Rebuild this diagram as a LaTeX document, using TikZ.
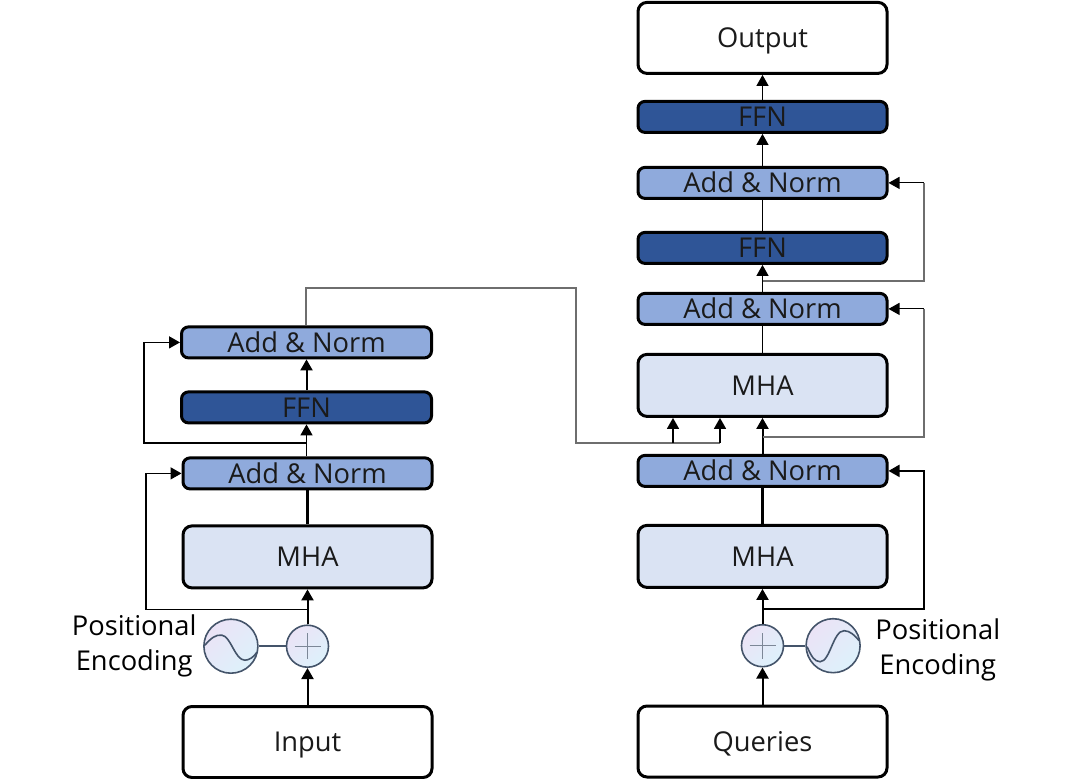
\documentclass[tikz,border=0pt]{standalone}
\usepackage{fontspec}
\setmainfont{Open Sans}
\usepackage{xcolor}
\usetikzlibrary{arrows.meta,positioning}
\definecolor{mhablue}{HTML}{DAE3F3}
\definecolor{addblue}{HTML}{8FAADC}
\definecolor{ffnblue}{HTML}{2F5597}
\definecolor{ringgray}{HTML}{44546A}
\definecolor{ringA}{HTML}{EBE3F6}
\definecolor{ringB}{HTML}{DDF1FB}
\definecolor{thinline}{HTML}{6E6E6E}
\definecolor{labeltext}{HTML}{1A1A1A}

\begin{document}
\begin{tikzpicture}[
x=1pt, y=1pt,
font=\fontsize{27.3}{35}\selectfont,
block/.style={draw, line width=3pt, rounded corners=9pt, align=center, inner sep=0pt, minimum width=249pt, text height=20pt, text depth=0.5pt, text=labeltext},
io/.style={block, minimum height=71pt, fill=white},
mha/.style={block, minimum height=62pt, fill=mhablue},
addnorm/.style={block, rounded corners=7pt, minimum height=31pt, fill=addblue},
ffn/.style={block, rounded corners=7pt, minimum height=31pt, fill=ffnblue},
ring/.style={circle, draw=ringgray, line width=1.6pt, inner sep=0pt, top color=ringA, bottom color=ringB, shading angle=45},
arr/.style={-{Triangle[length=11pt,width=12pt]}, line width=2pt},
lnk/.style={line width=2.2pt},
skip/.style={-{Triangle[length=11pt,width=12pt]}, line width=1.6pt},
feed/.style={draw=thinline, line width=1.2pt},
thin arr/.style={-{Triangle[length=11pt,width=12pt]}, line width=1.1pt},
wire/.style={draw=ringgray, line width=1.6pt},
]
\useasboundingbox (0,0) rectangle (1072,-779);

% encoder side
\node[io] (input) at (307.5,-742) {Input};
\node[ring, minimum size=42pt, above=37pt of input] (plusA) {};
\node[mha, above=35pt of plusA] (mhaA) {MHA};
\node[addnorm, above=34pt of mhaA] (addA) {Add \& Norm};
\node[ffn, above=32pt of addA, xshift=-1pt, minimum width=250pt] (ffnA) {FFN};
\node[addnorm, above=31pt of ffnA, minimum width=250pt] (addB) {Add \& Norm};
\node[ring, minimum size=54pt, left=27pt of plusA] (waveA) {};
\node[align=center, left=3pt of waveA] (posA) {Positional\\Encoding};

% decoder side
\node[io] (queries) at (762.5,-741.5) {Queries};
\node[ring, minimum size=42pt, above=37pt of queries] (plusB) {};
\node[mha, above=35pt of plusB] (mhaB) {MHA};
\node[addnorm, above=36pt of mhaB] (addC) {Add \& Norm};
\node[mha, above=36pt of addC] (mhaC) {MHA};
\node[addnorm, above=27pt of mhaC] (addD) {Add \& Norm};
\node[ffn, above=27pt of addD] (ffnB) {FFN};
\node[addnorm, above=31pt of ffnB] (addE) {Add \& Norm};
\node[ffn, above=32pt of addE] (ffnC) {FFN};
\node[io, above=25pt of ffnC] (output) {Output};
\node[ring, minimum size=54pt, right=21pt of plusB] (waveB) {};
\node[align=center, right=11pt of waveB, yshift=-4pt] (posB) {Positional\\Encoding};

% plus signs and waves
\foreach \p in {plusA,plusB} {
  \draw[draw=ringgray!70, line width=1.2pt] (\p.center) +(-13,0) -- +(13,0) +(0,-13) -- +(0,13);
}
\draw[wire, shift={(waveA.center)}] (-26,1) .. controls (-20,8) and (-15,12) .. (-9,11) .. controls (0,10) and (4,-14) .. (14,-14) .. controls (18,-14) and (23,-11) .. (26,-6);
\draw[wire, shift={(waveB.center)}] (-26,-1) .. controls (-22,-10) and (-19,-16) .. (-13,-16) .. controls (-3,-16) and (0,15) .. (11,15) .. controls (17,15) and (22,10) .. (26,5);
\draw[wire] (waveA) -- (plusA);
\draw[wire] (plusB) -- (waveB);

% branch points
\coordinate[below=20pt of mhaA.south] (forkA);
\coordinate (turnA) at (146,-607);
\coordinate (forkB) at (306,-443);
\coordinate (turnB) at (144,-443);
\coordinate[below=20pt of mhaB.south] (forkC);
\coordinate (turnC) at (924,-607.5);
\coordinate (forkD) at (762.5,-437);
\coordinate (turnD) at (924,-437);
\coordinate (forkE) at (762.5,-281);
\coordinate (turnE) at (924,-281);
\coordinate (crossA) at (306,-288);
\coordinate (crossB) at (576,-288);
\coordinate (crossC) at (576,-443);
\coordinate (crossD) at (720,-443);
\coordinate (crossE) at (673,-443);

% encoder connectors
\draw[arr] (input) -- (plusA);
\draw[arr] (plusA) -- (mhaA);
\draw[lnk] (mhaA) -- (addA);
\draw[skip] (addA.north -| ffnA) -- (ffnA);
\draw[arr] (ffnA) -- (addB);
\draw[skip] (forkA) -- (turnA |- forkA) |- (addA.west);
\draw[skip] (forkB) -- (turnB) |- (addB.west);

% decoder connectors
\draw[arr] (queries) -- (plusB);
\draw[arr] (plusB) -- (mhaB);
\draw[lnk] (mhaB) -- (addC);
\draw[arr] (addC) -- (mhaC);
\draw[lnk, line width=1.1pt] (mhaC) -- (addD);
\draw[thin arr] (addD) -- (ffnB);
\draw[lnk, line width=1.1pt] (ffnB) -- (addE);
\draw[thin arr] (addE) -- (ffnC);
\draw[thin arr] (ffnC) -- (output);
\draw[skip, line width=2pt] (forkC) -- (turnC |- forkC) |- (addC.east);
\draw[feed] (forkD) -- (turnD) -- (turnD |- addD);
\draw[thin arr] (turnD |- addD) -- (addD.east);
\draw[feed] (forkE) -- (turnE) -- (turnE |- addE);
\draw[thin arr] (turnE |- addE) -- (addE.east);

% cross connection
\draw[feed] (addB.north -| crossA) -- (crossA) -- (crossB) -- (crossC) -- (crossD);
\draw[skip] (crossD) -- (crossD |- mhaC.south);
\draw[skip] (crossE) -- (crossE |- mhaC.south);
\end{tikzpicture}
\end{document}
